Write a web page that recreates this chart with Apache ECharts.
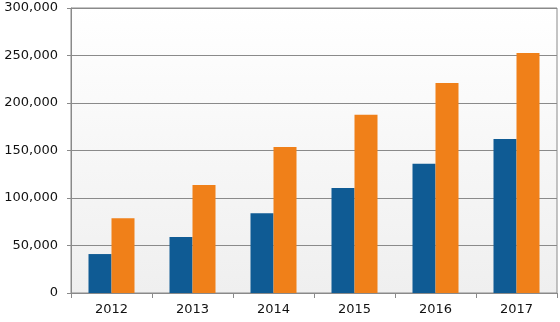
<!DOCTYPE html>
<html><head><meta charset="utf-8">
<script src="https://cdn.jsdelivr.net/npm/echarts@6/dist/echarts.min.js"></script>
<style>html,body{margin:0;padding:0;background:#fff}#c{width:560px;height:322px}</style>
</head><body><div id="c"></div>
<script>
const categories = ['2012','2013','2014','2015','2016','2017'];
const seriesBlue = [41000, 59000, 84000, 110500, 136000, 162000];
const seriesOrange = [78600, 113700, 153700, 187700, 221000, 252600];
const yTicks = [0, 50000, 100000, 150000, 200000, 250000, 300000];

const chart = echarts.init(document.getElementById('c'), null, {renderer:'canvas'});
const fmt = v => v.toLocaleString('en-US');
chart.setOption({
  animation:false,
  grid:{left:71,right:3,top:8,bottom:29,show:true,borderColor:'#8a8a8a',borderWidth:1,
    backgroundColor:new echarts.graphic.LinearGradient(0,0,0,1,[{offset:0,color:'#ffffff'},{offset:1,color:'#efefef'}])},
  xAxis:{type:'category',data:categories,
    axisLine:{lineStyle:{color:'#8a8a8a'}},
    axisTick:{show:true,length:5,lineStyle:{color:'#8a8a8a'}},
    axisLabel:{color:'#111',fontFamily:'DejaVu Sans',fontSize:13,margin:10}},
  yAxis:{type:'value',min:yTicks[0],max:yTicks[yTicks.length-1],interval:50000,
    axisLine:{show:true,lineStyle:{color:'#8a8a8a'}},
    axisTick:{show:true,length:4,lineStyle:{color:'#8a8a8a'}},
    splitLine:{lineStyle:{color:'#8a8a8a'}},
    axisLabel:{color:'#111',fontFamily:'DejaVu Sans',fontSize:13,margin:13,formatter:fmt}},
  series:[
    {type:'bar',data:seriesBlue,barWidth:23,barGap:'0%',itemStyle:{color:'#0f5b94'}},
    {type:'bar',data:seriesOrange,barWidth:23,barGap:'0%',itemStyle:{color:'#f08019'}}
  ]
});
</script></body></html>
